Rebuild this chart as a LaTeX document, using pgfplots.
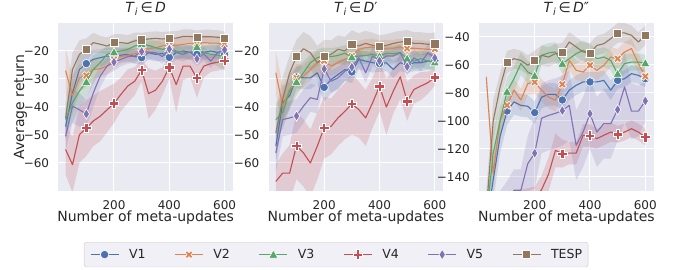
\documentclass[border=0pt]{standalone}
\usepackage{fontspec}
\setmainfont{DejaVu Sans}
\usepackage{pgfplots}
\pgfplotsset{compat=1.18}
\usepackage{pgfplotstable}
\usepgfplotslibrary{fillbetween}

\definecolor{bgc}{HTML}{EAEAF2}
\definecolor{cA}{HTML}{4C72B0}
\definecolor{cB}{HTML}{DD8452}
\definecolor{cC}{HTML}{55A868}
\definecolor{cD}{HTML}{C44E52}
\definecolor{cE}{HTML}{8172B3}
\definecolor{cF}{HTML}{937860}
\definecolor{txt}{HTML}{262626}

\pgfdeclareplotmark{mA}{\pgfpathcircle{\pgfpointorigin}{4.2pt}\pgfusepathqfillstroke}
\pgfdeclareplotmark{mF}{\pgfpathrectangle{\pgfqpoint{-4.1pt}{-4.1pt}}{\pgfqpoint{8.2pt}{8.2pt}}\pgfusepathqfillstroke}
\pgfdeclareplotmark{mC}{%
  \pgfpathmoveto{\pgfqpoint{0pt}{4.6pt}}%
  \pgfpathlineto{\pgfqpoint{-4.6pt}{-3.6pt}}%
  \pgfpathlineto{\pgfqpoint{4.6pt}{-3.6pt}}%
  \pgfpathclose\pgfusepathqfillstroke}
\pgfdeclareplotmark{mE}{%
  \pgfpathmoveto{\pgfqpoint{0pt}{5.2pt}}%
  \pgfpathlineto{\pgfqpoint{3.2pt}{0pt}}%
  \pgfpathlineto{\pgfqpoint{0pt}{-5.2pt}}%
  \pgfpathlineto{\pgfqpoint{-3.2pt}{0pt}}%
  \pgfpathclose\pgfusepathqfillstroke}
\pgfdeclareplotmark{mD}{%
  \pgfpathmoveto{\pgfqpoint{-1.6pt}{-4.8pt}}%
  \pgfpathlineto{\pgfqpoint{1.6pt}{-4.8pt}}%
  \pgfpathlineto{\pgfqpoint{1.6pt}{-1.6pt}}%
  \pgfpathlineto{\pgfqpoint{4.8pt}{-1.6pt}}%
  \pgfpathlineto{\pgfqpoint{4.8pt}{1.6pt}}%
  \pgfpathlineto{\pgfqpoint{1.6pt}{1.6pt}}%
  \pgfpathlineto{\pgfqpoint{1.6pt}{4.8pt}}%
  \pgfpathlineto{\pgfqpoint{-1.6pt}{4.8pt}}%
  \pgfpathlineto{\pgfqpoint{-1.6pt}{1.6pt}}%
  \pgfpathlineto{\pgfqpoint{-4.8pt}{1.6pt}}%
  \pgfpathlineto{\pgfqpoint{-4.8pt}{-1.6pt}}%
  \pgfpathlineto{\pgfqpoint{-1.6pt}{-1.6pt}}%
  \pgfpathclose\pgfusepathqfillstroke}
\pgfdeclareplotmark{mB}{%
  \pgfpathmoveto{\pgfqpoint{-2pt}{-4pt}}%
  \pgfpathlineto{\pgfqpoint{0pt}{-2pt}}%
  \pgfpathlineto{\pgfqpoint{2pt}{-4pt}}%
  \pgfpathlineto{\pgfqpoint{4pt}{-2pt}}%
  \pgfpathlineto{\pgfqpoint{2pt}{0pt}}%
  \pgfpathlineto{\pgfqpoint{4pt}{2pt}}%
  \pgfpathlineto{\pgfqpoint{2pt}{4pt}}%
  \pgfpathlineto{\pgfqpoint{0pt}{2pt}}%
  \pgfpathlineto{\pgfqpoint{-2pt}{4pt}}%
  \pgfpathlineto{\pgfqpoint{-4pt}{2pt}}%
  \pgfpathlineto{\pgfqpoint{-2pt}{0pt}}%
  \pgfpathlineto{\pgfqpoint{-4pt}{-2pt}}%
  \pgfpathclose\pgfusepathqfillstroke}

\pgfplotstableread{
x v1 e1 v2 e2 v3 e3 v4 e4 v5 e5 v6 e6
25 -47 5 -27 8 -44.5 5 -55.2 9 -50.5 5 -44 6
50 -35 6 -36 7 -38.5 7 -60.6 10 -39.7 6 -26.6 6
75 -26.6 5 -29.6 5 -34.3 6 -49.9 10 -41 6 -21.2 5
100 -24.5 4 -28.8 4 -31 6 -47.5 10 -42.5 5 -19.5 4
125 -23 3.5 -26.6 3.5 -26.6 5 -45 9 -35 5 -17 3.5
150 -22.4 3 -26.3 3 -24.2 4 -43.3 9 -29 4 -17.6 3
175 -21.8 3 -25.4 3 -21.2 3 -41 8 -25.4 3 -18.2 3
200 -22 3 -23 3 -20.4 3 -38.7 7 -24 3 -17 3
225 -21.5 2.5 -22 2.5 -20 2.5 -35.5 6 -23 2.5 -17 3
250 -21.2 2.5 -21.5 2.5 -19.4 2.5 -32.5 6 -22 2.5 -17.3 3
275 -22 2.5 -21 2.5 -18.2 2.5 -30.8 5 -21.8 2.5 -16.4 3
300 -22.4 2.5 -20.3 2.5 -17.4 2.5 -26.8 4 -20.2 2.5 -16 2.5
325 -20.6 2.5 -19.2 2.5 -18 2.5 -35.2 9 -20.4 2.5 -15.7 2.5
350 -21.2 2.5 -18.8 2.5 -18.8 2.5 -34 7 -20.6 2.5 -15.5 2.5
375 -20.9 2.5 -18.2 2.5 -19.4 2.5 -30.8 5 -22 2.5 -15.7 2.5
400 -22.3 2.5 -18 2.5 -18.8 2.5 -25.8 4 -19.3 2.5 -15.5 2.5
425 -20.6 2.5 -18 2.5 -20 2.5 -32 10 -20.5 2.5 -15.4 2.5
450 -20 2.5 -17.6 2.5 -20.4 2.5 -25.4 5 -21.2 2.5 -14.8 2.5
475 -20.5 2.5 -17.3 2.5 -20.6 2.5 -25.4 4 -20.3 2.5 -14.8 2.5
500 -21.2 2.5 -17.4 2.5 -18.5 2.5 -29.7 7 -22.8 2.5 -15.2 2.5
525 -20.5 2.5 -17 2.5 -20.6 2.5 -25.4 4 -21 2.5 -14.9 2.5
550 -20 2.5 -17.2 2.5 -21.2 3 -24.5 3 -23.6 2.5 -14.9 2.5
575 -20.5 2.5 -17.2 2.5 -21.5 4 -24 3 -20.5 2.5 -15.1 2.5
600 -21.2 2.5 -17.6 2.5 -22 5 -23.4 3 -19.6 2.5 -15.6 2.5
}\tA

\pgfplotstableread{
x v1 e1 v2 e2 v3 e3 v4 e4 v5 e5 v6 e6
25 -54 6 -27.8 8 -44.5 6 -66.6 6 -56.4 7 -49.3 8
50 -38.5 6 -39.7 7 -42 6 -63.6 7 -44.5 6 -37.3 8
75 -36 5 -33.7 6 -34.3 6 -63.6 10 -43.9 6 -27.8 6
100 -29.3 4 -29.6 5 -31 5 -53.8 12 -43.2 6 -22 6
125 -29.6 4 -29 4 -27.8 4 -56.4 12 -39.7 6 -19.2 6
150 -29.6 4 -26.6 4 -24.2 3 -60 12 -36.7 5 -20.6 6
175 -27.8 4 -24.2 4 -22.4 3 -54 12 -37.3 5 -24.2 6
200 -33 5 -23.5 4 -21.8 3 -47.4 11 -26.4 4 -22 6
225 -30.2 5 -25.4 3.5 -22 3 -46.9 10 -30.8 4 -21.2 5
250 -28.4 5 -24.2 3.5 -21.6 3 -43.9 10 -29.6 4 -19.4 5
275 -26.6 4 -23 3 -20.8 3 -41.5 10 -27.2 3.5 -20 5
300 -27.5 4 -21.8 3 -22.2 3 -38.9 11 -25.8 3.5 -17.6 5
325 -23 3.5 -19.4 3 -21.8 3 -40.9 10 -22.4 3.5 -18.2 4.5
350 -23.6 3.5 -18.8 3 -21.6 3 -43.9 10 -27.8 3.5 -17.3 4.5
375 -24.2 3.5 -18.6 3 -21.2 3 -38.5 9 -21.8 3.5 -18 4.5
400 -24.5 3 -19.3 3 -21.8 3 -32.6 9 -23.5 3 -18.4 4
425 -24.2 3 -19 3 -20.8 3 -40 10 -21.8 3 -18 4
450 -26.6 3 -19 3 -21 3 -34.3 8 -21.8 3 -17.3 4
475 -24.2 3 -18.6 3 -20.6 3 -29.2 8 -20.6 3 -16.8 4
500 -24.8 3 -19.1 3 -22.7 3 -38 7 -25.6 3 -16.5 4
525 -24.2 3 -19 3 -23.6 3 -33.7 5 -22.4 3 -17.3 4
550 -24.2 3 -19.2 3 -22.7 3 -32.5 5 -24.2 3 -17.3 4
575 -23.6 3 -19.4 3 -23.6 3 -31.3 4 -20.6 3 -17.6 4
600 -23.5 3 -19.3 3 -24 3 -29.4 3 -22.5 3 -17.4 4
}\tB

\pgfplotstableread{
x v1 e1 v2 e2 v3 e3 v4 e4 v5 e5 v6 e6
25 -175 15 -68.6 5 -170 15 -170 8 -175 15 -165 15
50 -142 15 -137.5 10 -123 15 -166 8 -170 15 -100 15
75 -111 12 -99.5 10 -99.5 12 -163 8 -165 15 -75.7 10
100 -92.9 10 -88.8 8 -79 10 -160 8 -158 15 -57.9 8
125 -86.4 9 -78 8 -69.8 9 -158 8 -149.5 15 -55.5 7
150 -88.8 8 -85 8 -59 8 -157 8 -149.5 15 -56.7 7
175 -89.5 8 -73.3 8 -65 8 -156 8 -130.5 20 -60.2 7
200 -94 8 -72.3 8 -67.6 8 -155 8 -123 25 -56.7 7
225 -83 8 -78 8 -53.1 7 -149 10 -98 25 -53.1 7
250 -81 8 -82.9 8 -51.4 7 -138 12 -96 25 -54.3 7
275 -81 8 -85.2 8 -50.7 7 -121 12 -94.5 25 -51.9 7
300 -85 7 -73.8 7 -59 7 -123.3 10 -92.6 25 -51.2 7
325 -78 7 -56.7 7 -55.5 7 -122.9 8 -88.8 25 -43.6 7
350 -74.5 7 -63.8 7 -51.9 7 -122.9 8 -117.4 25 -47.1 7
375 -72.1 7 -65 7 -49.5 7 -110.2 8 -107.9 25 -50.7 7
400 -72.1 7 -60.2 7 -52 7 -110.4 8 -94.8 25 -51.6 7
425 -72.1 7 -63.8 7 -55.5 7 -112.6 7 -107.9 25 -46 7
450 -71 7 -60.2 7 -54.3 7 -110.2 7 -101.9 25 -44.8 7
475 -78 7 -54.3 7 -56.7 7 -107.9 7 -101.9 25 -41.2 7
500 -71 6 -55.5 7 -66.2 7 -109.5 6 -91.9 22 -37.1 7
525 -69.8 6 -50.7 7 -59 7 -107.9 6 -75.7 25 -37.1 7
550 -66.2 6 -48.3 7 -57.9 6 -105.5 6 -92.9 20 -38.8 7
575 -67.4 6 -59 7 -57.9 6 -107.9 6 -92.9 18 -43.6 7
600 -69.8 6 -68.1 7 -58.6 6 -111.5 6 -85.7 15 -38.8 7
}\tC

\newcommand{\band}[4]{%
  \addplot[draw=none, forget plot, name path=u#2] table[x=x, y expr=\thisrow{#2}+\thisrow{#3}]{#1};
  \addplot[draw=none, forget plot, name path=l#2] table[x=x, y expr=\thisrow{#2}-\thisrow{#3}]{#1};
  \addplot[fill=#4, fill opacity=0.2, draw=none, forget plot] fill between[of=u#2 and l#2];
}
\newcommand{\curve}[4]{%
  \addplot[color=#3, line width=1.1pt, line join=round, mark=none,
    legend image post style={line width=0.9pt, mark=#4, mark options={solid, fill=#3, draw=white, line width=0.6pt}}]
    table[x=x, y=#2]{#1};
  \addplot[color=#3, only marks, forget plot, mark=#4,
    mark options={solid, fill=#3, draw=white, line width=0.6pt},
    x filter/.expression={mod(x,100)==0 ? x : nan}]
    table[x=x, y=#2]{#1};
}
\newcommand{\allseries}[1]{%
  \band{#1}{v1}{e1}{cA}\band{#1}{v2}{e2}{cB}\band{#1}{v3}{e3}{cC}%
  \band{#1}{v4}{e4}{cD}\band{#1}{v5}{e5}{cE}\band{#1}{v6}{e6}{cF}%
  \curve{#1}{v1}{cA}{mA}\curve{#1}{v2}{cB}{mB}\curve{#1}{v3}{cC}{mC}%
  \curve{#1}{v4}{cD}{mD}\curve{#1}{v5}{cE}{mE}\curve{#1}{v6}{cF}{mF}%
}

\pgfplotsset{
  myaxis/.style={
    scale only axis, width=174.7pt, height=168pt, anchor=south west,
    xmin=-1.4, xmax=630.4,
    axis background/.style={fill=bgc},
    axis line style={draw=none},
    grid=major, major grid style={white, line width=1pt},
    tick style={draw=none},
    xtick={200,400,600},
    /pgf/number format/assume math mode=true,
    tick label style={font=\fontsize{12}{14}\selectfont, text=txt, inner sep=0pt},
    yticklabel style={anchor=east, xshift=-9pt},
    xticklabel style={anchor=north, yshift=-9pt},
    title style={font=\fontsize{14}{17}\selectfont, text=txt, at={(axis description cs:0.5,1)}, anchor=base, yshift=4pt},
    xlabel={Number of meta-updates},
    xlabel style={font=\fontsize{14}{17}\selectfont, text=txt, at={(axis description cs:0.5,-0.1815)}, anchor=base},
    ylabel style={font=\fontsize{14}{17}\selectfont, text=txt, at={(axis description cs:-0.1963,0.5)}, anchor=base},
    clip marker paths=true,
    legend image code/.code={%
      \draw[##1, mark repeat=2, mark phase=2] plot coordinates {(0pt,0pt) (14pt,0pt) (28pt,0pt)};
    },
  },
  ya/.style={ymin=-70, ymax=-10, ytick={-60,-50,-40,-30,-20}, yticklabels={−60,−50,−40,−30,−20}},
}

\begin{document}
\begin{tikzpicture}

\begin{axis}[myaxis, ya, at={(58.3pt,79pt)}, ylabel={Average return},
  title={\textit{T}\textsubscript{\textit{i}}\,∈\,\textit{D}}]
\allseries{\tA}
\end{axis}

\begin{axis}[myaxis, ya, at={(268.5pt,79pt)},
  title={\textit{T}\textsubscript{\textit{i}}\,∈\,\textit{D}′},
  legend style={at={(axis description cs:0.387,-0.3036)}, anchor=north, legend columns=6,
    fill=bgc!70!white, draw=black!20, rounded corners=2.5pt,
    font=\fontsize{12.5}{15}\selectfont, text=txt,
    inner xsep=6pt, inner ysep=7pt,
    nodes={inner sep=0pt},
    /tikz/every odd column/.append style={column sep=10pt},
    /tikz/every even column/.append style={column sep=29pt}}]
\allseries{\tB}
\legend{V1,V2,V3,V4,V5,TESP}
\end{axis}

\begin{axis}[myaxis, at={(479pt,79pt)}, ymin=-150, ymax=-30,
  ytick={-140,-120,-100,-80,-60,-40}, yticklabels={−140,−120,−100,−80,−60,−40},
  title={\textit{T}\textsubscript{\textit{i}}\,∈\,\textit{D}″}]
\allseries{\tC}
\end{axis}

\pgfresetboundingbox
\path[use as bounding box] (0,0) rectangle (677pt,270pt);
\end{tikzpicture}
\end{document}
